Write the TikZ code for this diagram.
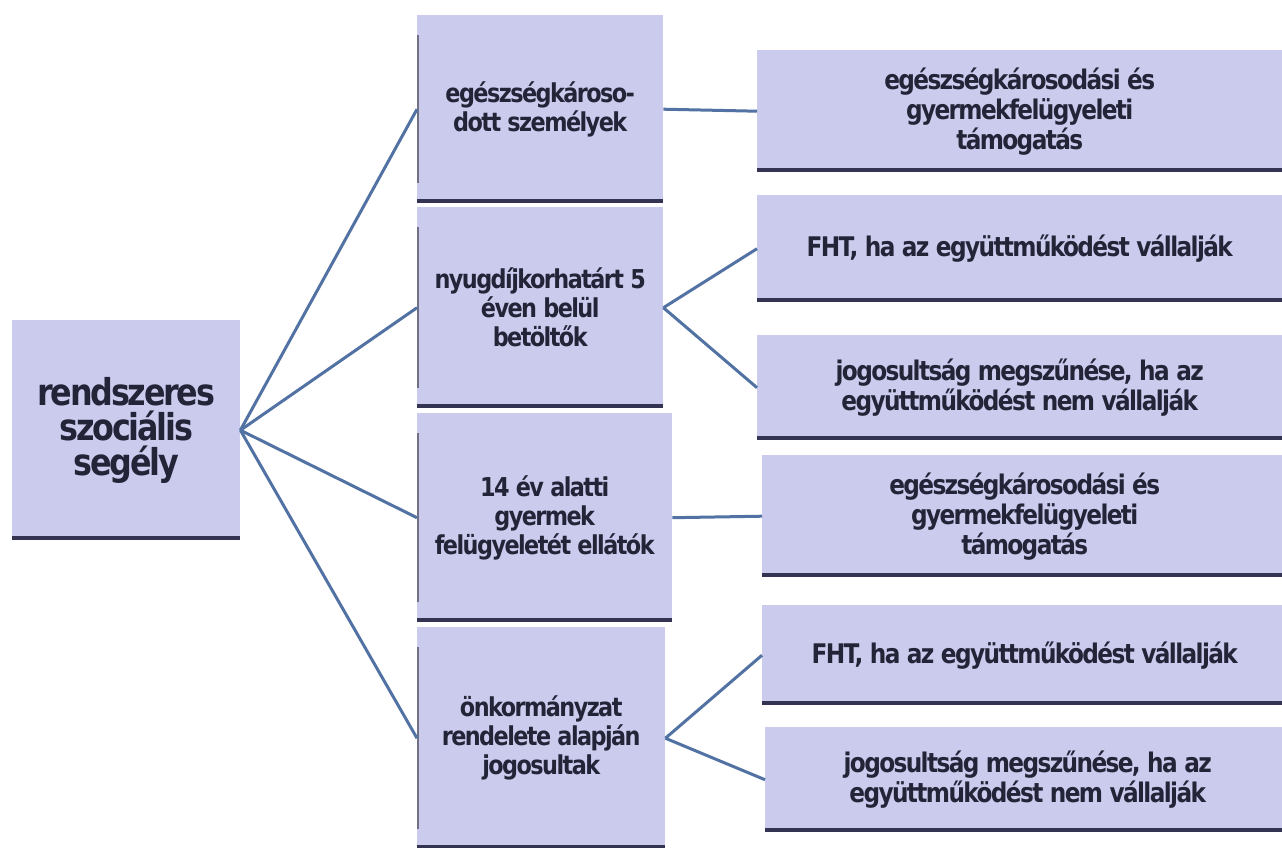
\documentclass[tikz,border=0pt]{standalone}
\usepackage{fontspec}
\newfontfamily\boxfont{DejaVu Sans}[FakeStretch=0.86,LetterSpace=-6]
\definecolor{boxfill}{RGB}{203,203,238}
\definecolor{edgecol}{RGB}{52,52,82}
\definecolor{linecol}{RGB}{82,114,164}
\definecolor{txtcol}{RGB}{36,36,56}
\tikzset{
  box/.style={rectangle, anchor=north west, inner sep=0pt, fill=boxfill,
    align=center, text=txtcol, font=\boxfont\bfseries,
    path picture={\fill[edgecol] (path picture bounding box.south west) rectangle ([yshift=4pt]path picture bounding box.south east);}},
  midbox/.style={box, font=\boxfont\bfseries\fontsize{26}{29}\selectfont,
    path picture={\fill[edgecol] (path picture bounding box.south west) rectangle ([yshift=4pt]path picture bounding box.south east);
      \fill[edgecol!70] ([yshift=20pt]path picture bounding box.south west) rectangle ([xshift=1.6pt,yshift=-20pt]path picture bounding box.north west);}},
  rbox/.style={box, minimum width=525pt, font=\boxfont\bfseries\fontsize{27}{30}\selectfont},
  conn/.style={draw=linecol, line width=3pt}
}
\begin{document}
\begin{tikzpicture}[x=1pt,y=-1pt]
\useasboundingbox (0,0) rectangle (1282,847);
\fill[white] (0,0) rectangle (1282,847);
% root
\node[box, minimum width=228pt, minimum height=220pt, font=\boxfont\bfseries\fontsize{37}{35}\selectfont] (root) at (12,320) {rendszeres\\szociális\\segély};
% middle
\node[midbox, minimum width=246pt, minimum height=188pt] (m1) at (417,15) {egészségkároso-\\dott személyek};
\node[midbox, minimum width=246pt, minimum height=201pt] (m2) at (417,207) {nyugdíjkorhatárt 5\\éven belül\\betöltők};
\node[midbox, minimum width=255pt, minimum height=209pt] (m3) at (417,413) {14 év alatti\\gyermek\\felügyeletét ellátók};
\node[midbox, minimum width=248pt, minimum height=222pt] (m4) at (417,627) {önkormányzat\\rendelete alapján\\jogosultak};
% right
\node[rbox, minimum height=122pt] (r1) at (757,50) {egészségkárosodási és\\gyermekfelügyeleti\\támogatás};
\node[rbox, minimum height=107pt] (r2) at (757,195) {FHT, ha az együttműködést vállalják};
\node[rbox, minimum height=105pt] (r3) at (757,335) {jogosultság megszűnése, ha az\\együttműködést nem vállalják};
\node[rbox, minimum height=122pt] (r4) at (762,455) {egészségkárosodási és\\gyermekfelügyeleti\\támogatás};
\node[rbox, minimum height=100pt] (r5) at (762,605) {FHT, ha az együttműködést vállalják};
\node[rbox, minimum height=105pt] (r6) at (765,727) {jogosultság megszűnése, ha az\\együttműködést nem vállalják};
% connectors
\draw[conn] (root.east) -- (m1.west);
\draw[conn] (root.east) -- (m2.west);
\draw[conn] (root.east) -- (m3.west);
\draw[conn] (root.east) -- (m4.west);
\draw[conn] (m1.east) -- (r1.west);
\draw[conn] (m2.east) -- (r2.west);
\draw[conn] (m2.east) -- (r3.west);
\draw[conn] (m3.east) -- (r4.west);
\draw[conn] (m4.east) -- (r5.west);
\draw[conn] (m4.east) -- (r6.west);
\end{tikzpicture}
\end{document}
